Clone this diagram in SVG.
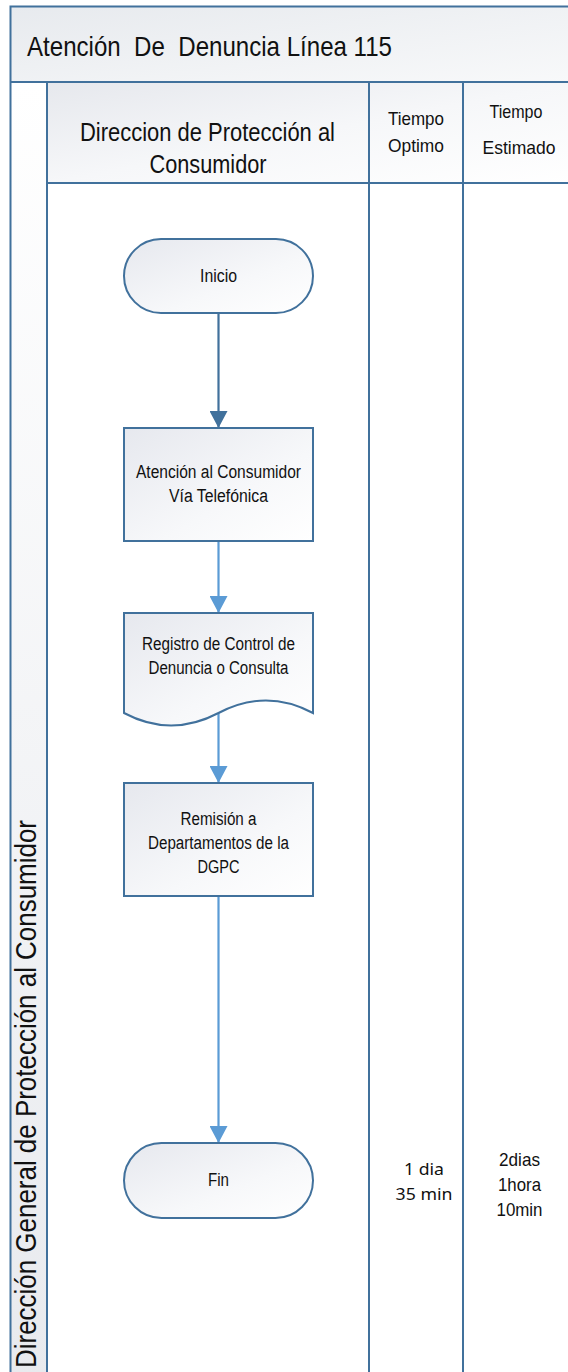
<svg xmlns="http://www.w3.org/2000/svg" width="568" height="1372" viewBox="0 0 568 1372">
  <style>
    .frame { fill: none; stroke: #41719c; stroke-width: 2; }
    .node { stroke: #41719c; stroke-width: 2; fill: url(#nodeFill); }
    .lbl { font-family: "Liberation Sans", Arial, sans-serif; fill: #111; text-anchor: middle; white-space: pre; }
    .node-text { font-size: 18px; }
    .conn-dark { stroke: #41719c; stroke-width: 2.2; fill: none; }
    .conn-light { stroke: #5b9bd5; stroke-width: 2.2; fill: none; }
    .time { font-family: "Noto Sans", "Open Sans", sans-serif; font-size: 16px; fill: #111; text-anchor: middle; }
  </style>
  <defs>
    <linearGradient id="nodeFill" x1="0" y1="0" x2="1" y2="1">
      <stop offset="0" stop-color="#e6e8ee"/>
      <stop offset="0.6" stop-color="#f7f8fa"/>
      <stop offset="1" stop-color="#ffffff"/>
    </linearGradient>
    <linearGradient id="titleFill" x1="0" y1="0" x2="1" y2="1">
      <stop offset="0" stop-color="#e7eaee"/>
      <stop offset="1" stop-color="#f8f9fa"/>
    </linearGradient>
    <linearGradient id="headFill" x1="0" y1="0" x2="1" y2="1">
      <stop offset="0" stop-color="#e6e8ed"/>
      <stop offset="0.5" stop-color="#f6f7f9"/>
      <stop offset="1" stop-color="#ffffff"/>
    </linearGradient>
    <linearGradient id="laneFill" x1="0" y1="0" x2="0" y2="1">
      <stop offset="0" stop-color="#ffffff"/>
      <stop offset="1" stop-color="#e8eaee"/>
    </linearGradient>
    <marker id="headDark" markerUnits="userSpaceOnUse" markerWidth="18" markerHeight="18" refX="17" refY="9" orient="auto">
      <path d="M0,0 L17,9 L0,18 Z" fill="#41719c"/>
    </marker>
    <marker id="headLight" markerUnits="userSpaceOnUse" markerWidth="18" markerHeight="18" refX="17" refY="9" orient="auto">
      <path d="M0,0 L17,9 L0,18 Z" fill="#5b9bd5"/>
    </marker>
  </defs>

  <rect width="568" height="1372" fill="#ffffff"/>

  <!-- pool: title band, lane strip, header row, time columns -->
  <g id="pool">
    <rect x="10.5" y="6.5" width="570" height="75.5" fill="url(#titleFill)"/>
    <rect x="10.5" y="82" width="36.5" height="1300" fill="url(#laneFill)"/>
    <rect x="47" y="82" width="530" height="101" fill="url(#headFill)"/>
    <path class="frame" d="M10.5,1380 V6.5 H580 M10.5,82 H580 M47,82 V1380 M47,183 H580 M369,82 V1380 M463,82 V1380"/>
    <text class="lbl" x="27" y="56" font-size="28" style="text-anchor:start" textLength="365" lengthAdjust="spacingAndGlyphs">Atención  De  Denuncia Línea 115</text>
    <text class="lbl" x="207.5" y="141" font-size="26" textLength="255" lengthAdjust="spacingAndGlyphs">Direccion de Protección al</text>
    <text class="lbl" x="208" y="173" font-size="26" textLength="117" lengthAdjust="spacingAndGlyphs">Consumidor</text>
    <text class="lbl" x="416" y="125" font-size="19" textLength="56" lengthAdjust="spacingAndGlyphs">Tiempo</text>
    <text class="lbl" x="416" y="152" font-size="19" textLength="56" lengthAdjust="spacingAndGlyphs">Optimo</text>
    <text class="lbl" x="516" y="118" font-size="19" textLength="53" lengthAdjust="spacingAndGlyphs">Tiempo</text>
    <text class="lbl" x="519" y="154" font-size="19" textLength="73" lengthAdjust="spacingAndGlyphs">Estimado</text>
    <text class="lbl" transform="translate(36,1368) rotate(-90)" x="0" y="0" font-size="30" style="text-anchor:start" textLength="548" lengthAdjust="spacingAndGlyphs">Dirección General de Protección al Consumidor</text>
  </g>

  <!-- connectors -->
  <g id="connectors">
    <line class="conn-dark" x1="218.5" y1="313" x2="218.5" y2="428" marker-end="url(#headDark)"/>
    <line class="conn-light" x1="218.5" y1="541" x2="218.5" y2="613" marker-end="url(#headLight)"/>
    <line class="conn-light" x1="218.5" y1="713" x2="218.5" y2="783" marker-end="url(#headLight)"/>
    <line class="conn-light" x1="218.5" y1="896" x2="218.5" y2="1143" marker-end="url(#headLight)"/>
  </g>

  <g id="inicio">
    <rect class="node" x="124" y="239" width="189" height="74" rx="37" ry="37"/>
    <text class="lbl node-text" x="218.5" y="282" textLength="37" lengthAdjust="spacingAndGlyphs">Inicio</text>
  </g>

  <g id="atencion">
    <rect class="node" x="124" y="428" width="189" height="113"/>
    <text class="lbl node-text" x="218.5" y="478" textLength="165" lengthAdjust="spacingAndGlyphs">Atención al Consumidor</text>
    <text class="lbl node-text" x="218.5" y="502" textLength="99" lengthAdjust="spacingAndGlyphs">Vía Telefónica</text>
  </g>

  <g id="registro">
    <path class="node" d="M124,613 H313 V713 Q266,688 218.5,713 Q171,738 124,713 Z"/>
    <text class="lbl node-text" x="218.5" y="650" textLength="153" lengthAdjust="spacingAndGlyphs">Registro de Control de</text>
    <text class="lbl node-text" x="218.5" y="674" textLength="140" lengthAdjust="spacingAndGlyphs">Denuncia o Consulta</text>
  </g>

  <g id="remision">
    <rect class="node" x="124" y="783" width="189" height="113"/>
    <text class="lbl node-text" x="218.5" y="825" textLength="76" lengthAdjust="spacingAndGlyphs">Remisión a</text>
    <text class="lbl node-text" x="218.5" y="849" textLength="141" lengthAdjust="spacingAndGlyphs">Departamentos de la</text>
    <text class="lbl node-text" x="218.5" y="873" textLength="42" lengthAdjust="spacingAndGlyphs">DGPC</text>
  </g>

  <g id="fin">
    <rect class="node" x="124" y="1143" width="189" height="75" rx="37.5" ry="37.5"/>
    <text class="lbl node-text" x="218.5" y="1186" textLength="21" lengthAdjust="spacingAndGlyphs">Fin</text>
  </g>

  <g id="tiempos">
    <text class="time" x="424" y="1175" textLength="40" lengthAdjust="spacingAndGlyphs">1 dia</text>
    <text class="time" x="424" y="1200" textLength="57" lengthAdjust="spacingAndGlyphs">35 min</text>
    <text class="lbl" x="519.5" y="1166" font-size="19" textLength="41" lengthAdjust="spacingAndGlyphs">2dias</text>
    <text class="lbl" x="519.5" y="1191" font-size="19" textLength="43" lengthAdjust="spacingAndGlyphs">1hora</text>
    <text class="lbl" x="519.5" y="1216" font-size="19" textLength="46" lengthAdjust="spacingAndGlyphs">10min</text>
  </g>
</svg>
